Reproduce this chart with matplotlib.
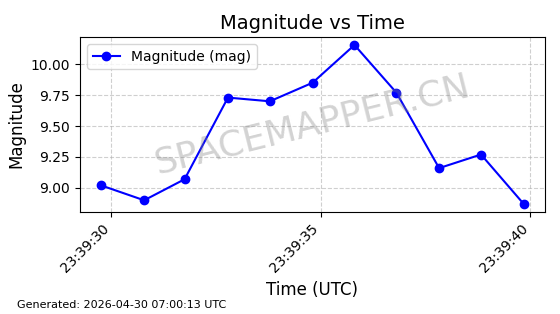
import matplotlib
matplotlib.use("Agg")
import matplotlib.dates as mdates
import matplotlib.pyplot as plt
import pandas as pd

TIMES = [
    "2026-04-29 23:39:29.755", "2026-04-29 23:39:30.780", "2026-04-29 23:39:31.745",
    "2026-04-29 23:39:32.780", "2026-04-29 23:39:33.780", "2026-04-29 23:39:34.800",
    "2026-04-29 23:39:35.800", "2026-04-29 23:39:36.800", "2026-04-29 23:39:37.820",
    "2026-04-29 23:39:38.820", "2026-04-29 23:39:39.840",
]
MAGNITUDES = [9.02, 8.90, 9.07, 9.73, 9.70, 9.85, 10.155, 9.77, 9.16, 9.27, 8.87]
GENERATED = "Generated: 2026-04-30 07:00:13 UTC"
WATERMARK = "SPACEMAPPER.CN"


def main():
    times = pd.to_datetime(TIMES)

    fig, ax = plt.subplots(figsize=(5.6, 3.14), dpi=100)
    fig.subplots_adjust(left=0.143, right=0.973, top=0.882, bottom=0.325)

    ax.plot(times, MAGNITUDES, "b-o", label="Magnitude (mag)")
    ax.set_title("Magnitude vs Time", fontsize=14)
    ax.set_xlabel("Time (UTC)", fontsize=12)
    ax.set_ylabel("Magnitude", fontsize=12)
    ax.grid(True, linestyle="--", alpha=0.6)
    ax.legend(loc="upper left")

    ax.xaxis.set_major_locator(mdates.SecondLocator(bysecond=range(0, 60, 5)))
    ax.xaxis.set_major_formatter(mdates.DateFormatter("%H:%M:%S"))
    plt.setp(ax.get_xticklabels(), rotation=45, ha="right")

    ax.text(0.5, 0.5, WATERMARK, transform=ax.transAxes, fontsize=26,
            color="gray", alpha=0.35, ha="center", va="center", rotation=14)

    fig.text(0.03, 0.02, GENERATED, fontsize=8)

    fig.savefig("out.png", dpi=100)
    plt.close(fig)


if __name__ == "__main__":
    main()
